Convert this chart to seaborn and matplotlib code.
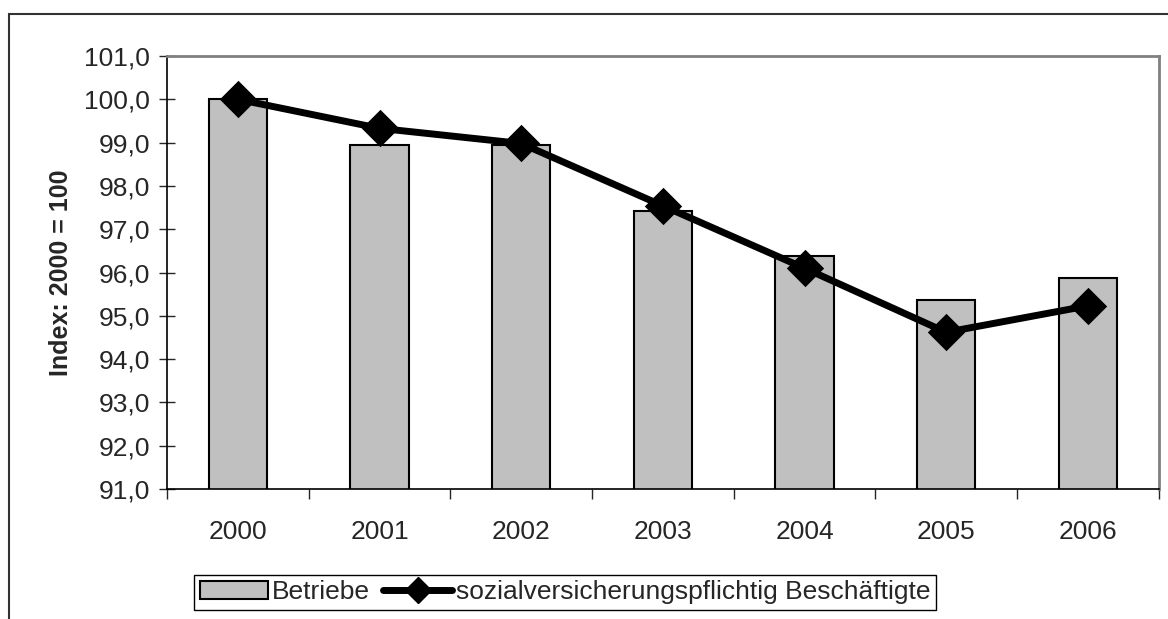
import matplotlib
matplotlib.use("Agg")
import matplotlib.pyplot as plt
import seaborn as sns
import pandas as pd
from matplotlib.lines import Line2D
from matplotlib.patches import Patch, Rectangle
from matplotlib.ticker import FuncFormatter, FixedLocator

# Daten (Index: 2000 = 100)
jahre = ["2000", "2001", "2002", "2003", "2004", "2005", "2006"]
betriebe = [100.0, 98.95, 98.95, 97.42, 96.39, 95.36, 95.87]
beschaeftigte = [100.0, 99.33, 98.98, 97.54, 96.10, 94.62, 95.23]

sns.set_theme(style="white")
plt.rcParams['font.family'] = ['Liberation Sans', 'DejaVu Sans']

df = pd.DataFrame({"Jahr": jahre, "Betriebe": betriebe, "SVB": beschaeftigte})

fig = plt.figure(figsize=(11.68, 6.19), dpi=100)
ax = fig.add_axes([0.143, 0.21, 0.849, 0.6995])

sns.barplot(data=df, x="Jahr", y="Betriebe", color="#C0C0C0", edgecolor="black",
            linewidth=1.5, width=0.41, saturation=1, ax=ax)
sns.pointplot(data=df, x="Jahr", y="SVB", color="black", marker="D", markersize=15,
              linewidth=5, ax=ax)

ax.set_ylim(91, 101)
ax.set_xlim(-0.5, 6.5)
ax.set_yticks(range(91, 102))
ax.yaxis.set_major_formatter(FuncFormatter(lambda v, p: f"{v:.1f}".replace(".", ",")))
ax.tick_params(axis="y", direction="inout", length=12, width=1, labelsize=19, pad=6, left=True)
ax.tick_params(axis="x", which="major", length=0, labelsize=19, pad=22)
ax.xaxis.set_minor_locator(FixedLocator([i - 0.5 for i in range(8)]))
ax.tick_params(axis="x", which="minor", direction="out", length=7, width=1, bottom=True)

ax.set_xlabel("")
ax.set_ylabel("Index: 2000 = 100", fontsize=18, fontweight="bold", labelpad=8)

for s in ["left", "bottom"]:
    ax.spines[s].set_color("black")
    ax.spines[s].set_linewidth(1.2)
for s in ["top", "right"]:
    ax.spines[s].set_color("#808080")
    ax.spines[s].set_linewidth(2)

handles = [
    Patch(facecolor="#C0C0C0", edgecolor="black", linewidth=1.5, label="Betriebe"),
    Line2D([0], [0], color="black", lw=5, marker="D", markersize=13,
           label="sozialversicherungspflichtig Beschäftigte"),
]
leg = fig.legend(handles=handles, loc="center", bbox_to_anchor=(0.4837, 0.043), ncol=2,
                 fontsize=19, frameon=True, fancybox=False, framealpha=1,
                 handlelength=2.6, handletextpad=0.15, columnspacing=0.5,
                 borderpad=0.2, borderaxespad=0)
leg.get_frame().set_edgecolor("black")
leg.get_frame().set_linewidth(1)

# äußerer Rahmen
fig.patches.append(Rectangle((9 / 1168, -0.2), 1.2, 1.2 - 14 / 619, transform=fig.transFigure,
                             fill=False, edgecolor="#333333", linewidth=1.5, clip_on=False))

fig.savefig("out.png", dpi=100)
